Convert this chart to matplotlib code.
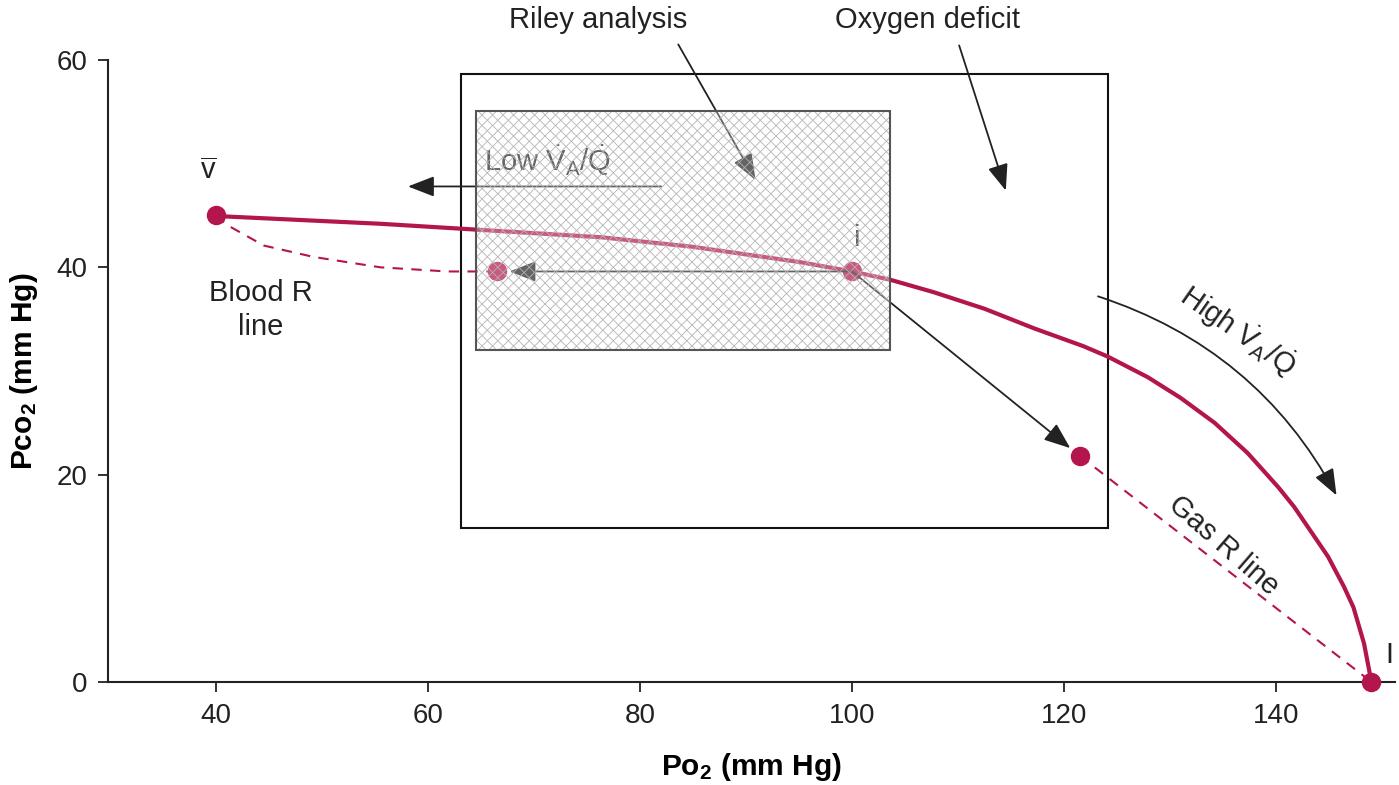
import matplotlib
matplotlib.use("Agg")
import matplotlib.pyplot as plt
import numpy as np
from matplotlib.patches import Rectangle, FancyArrowPatch
from matplotlib.collections import LineCollection
from matplotlib.transforms import IdentityTransform

plt.rcParams['font.family'] = ['Liberation Sans', 'DejaVu Sans']
plt.rcParams['mathtext.fontset'] = 'custom'
plt.rcParams['mathtext.rm'] = 'Liberation Sans'
plt.rcParams['mathtext.it'] = 'Liberation Sans:italic'
plt.rcParams['mathtext.bf'] = 'Liberation Sans:bold'

# ventilation-perfusion line
vq_po2 = [40, 41, 55.5, 76.3, 84.8, 95.1, 100, 103.6, 107.7, 112.5, 117.2, 121.8,
          124.1, 127.9, 131.0, 134.2, 137.3, 140.2, 141.7, 144.9, 146.4, 147.3, 148.3, 148.9, 149.0]
vq_pco2 = [45, 44.9, 44.2, 42.9, 42.0, 40.5, 39.6, 38.8, 37.6, 36.0, 34.1, 32.4,
           31.4, 29.4, 27.4, 25.0, 22.1, 18.8, 16.9, 12.1, 9.2, 7.2, 3.7, 0.5, 0]

# blood R line
blood_po2 = [40, 41, 44.5, 49.2, 55.5, 61.8, 66.5]
blood_pco2 = [45, 44.1, 42.1, 41.0, 40.0, 39.6, 39.6]

# gas R line
gas_po2 = [121.5, 149]
gas_pco2 = [21.8, 0]

# points
pt_v = (40, 45)
pt_i = (100, 39.6)
pt_blood = (66.5, 39.6)
pt_gas = (121.5, 21.8)
pt_I = (149, 0)

# boxes (x0, y0, x1, y1)
riley_box = (64.5, 32.0, 103.6, 55.1)
deficit_box = (63.1, 14.9, 124.1, 58.6)

xticks = [40, 60, 80, 100, 120, 140]
yticks = [0, 20, 40, 60]

red = '#b3154d'
tc = '#222222'
fs = 21

fig = plt.figure(figsize=(13.99, 7.85), dpi=100)
ax = fig.add_axes([0.0772, 0.1312, 0.9198, 0.7924])
ax.set_xlim(29.8, 151.2)
ax.set_ylim(0, 60)

for s in ['top', 'right']:
    ax.spines[s].set_visible(False)
for s in ['left', 'bottom']:
    ax.spines[s].set_linewidth(1.5)
    ax.spines[s].set_color(tc)
ax.set_xticks(xticks)
ax.set_yticks(yticks)
ax.tick_params(direction='out', length=7, width=1.3, labelsize=20, colors=tc, pad=8)

ax.set_xlabel(r'P$\mathbf{o_2}$ (mm Hg)', fontsize=21.5, fontweight='bold', labelpad=16)
ax.set_ylabel(r'P$\mathbf{co_2}$ (mm Hg)', fontsize=21.5, fontweight='bold', labelpad=12)

# curves
ax.plot(vq_po2, vq_pco2, color=red, lw=3, solid_capstyle='round', solid_joinstyle='round',
        zorder=3, clip_on=False)
ax.plot(blood_po2, blood_pco2, color=red, lw=1.5, ls=(0, (5, 4)), zorder=3)
ax.plot(gas_po2, gas_pco2, color=red, lw=1.5, ls=(0, (5, 4)), zorder=3, clip_on=False)

for p in [pt_v, pt_i, pt_blood, pt_gas, pt_I]:
    ax.plot(*p, 'o', color=red, ms=13, zorder=4, clip_on=False)

# outer box
ax.add_patch(Rectangle((deficit_box[0], deficit_box[1]), deficit_box[2] - deficit_box[0],
                       deficit_box[3] - deficit_box[1], fill=False, ec='#111111', lw=1.5, zorder=2))

# arrows
arr = dict(arrowstyle='-|>,head_length=0.9,head_width=0.35', color=tc, lw=1.3,
           mutation_scale=18)
ax.add_patch(FancyArrowPatch(pt_i, pt_blood, shrinkA=0, shrinkB=9, zorder=5, **arr))
ax.add_patch(FancyArrowPatch(pt_i, pt_gas, shrinkA=0, shrinkB=9, zorder=5, **arr))
ax.add_patch(FancyArrowPatch((82.0, 47.8), (58.1, 47.8), shrinkA=0, shrinkB=0, zorder=5, **arr))
ax.add_patch(FancyArrowPatch((83.6, 61.5), (90.9, 48.4), shrinkA=0, shrinkB=0, zorder=5,
                             clip_on=False, **arr))
ax.add_patch(FancyArrowPatch((110.1, 61.4), (114.5, 47.4), shrinkA=0, shrinkB=0, zorder=5,
                             clip_on=False, **arr))
ax.add_patch(FancyArrowPatch((123.2, 37.2), (145.7, 18.0), shrinkA=0, shrinkB=0, zorder=5,
                             connectionstyle='arc3,rad=-0.2', **arr))

# labels
ax.text(65.3, 50.3, r'Low $\dot{\mathrm{V}}_\mathrm{A}/\dot{\mathrm{Q}}$', fontsize=fs,
        color=tc, ha='left', va='center', zorder=5)
ax.text(100.5, 42.8, 'i', fontsize=fs, color=tc, ha='center', va='center', zorder=5)
ax.text(76.0, 63.9, 'Riley analysis', fontsize=fs, color=tc, ha='center', va='center', clip_on=False)
ax.text(107.1, 63.9, 'Oxygen deficit', fontsize=fs, color=tc, ha='center', va='center', clip_on=False)
ax.text(39.3, 49.3, r'$\overline{\mathrm{v}}$', fontsize=fs, color=tc, ha='center', va='center')
ax.text(44.2, 35.9, 'Blood R\nline', fontsize=fs, color=tc, ha='center', va='center', linespacing=1.25)
ax.text(136.4, 33.9, r'High $\dot{\mathrm{V}}_\mathrm{A}/\dot{\mathrm{Q}}$', fontsize=fs, color=tc,
        ha='center', va='center', rotation=-35, rotation_mode='anchor')
ax.text(135.0, 13.2, 'Gas R line', fontsize=fs, color=tc, ha='center', va='center',
        rotation=-41, rotation_mode='anchor')
ax.text(150.7, 2.6, 'I', fontsize=fs, color=tc, ha='center', va='center', clip_on=False)

# hatched Riley box: a light veil over what lies beneath, then a cross hatch
rw = riley_box[2] - riley_box[0]
rh = riley_box[3] - riley_box[1]
veil = Rectangle((riley_box[0], riley_box[1]), rw, rh, fc=(1, 1, 1, 0.3), ec='none', zorder=6)
ax.add_patch(veil)

(dx0, dy0), (dx1, dy1) = ax.transData.transform([riley_box[:2], riley_box[2:]])
h = dy1 - dy0
segs = []
for c in np.arange(dx0 - h, dx1 + 10, 10.5):
    segs.append([(c, dy0), (c + h, dy1)])
    segs.append([(c, dy1), (c + h, dy0)])
hatch = LineCollection(segs, colors='#b4b4b4', linewidths=0.6, transform=IdentityTransform(), zorder=6)
ax.add_collection(hatch)
hatch.set_clip_path(veil)

ax.add_patch(Rectangle((riley_box[0], riley_box[1]), rw, rh, fill=False, ec='#555555', lw=1.5, zorder=7))

fig.savefig('out.png', dpi=100)
